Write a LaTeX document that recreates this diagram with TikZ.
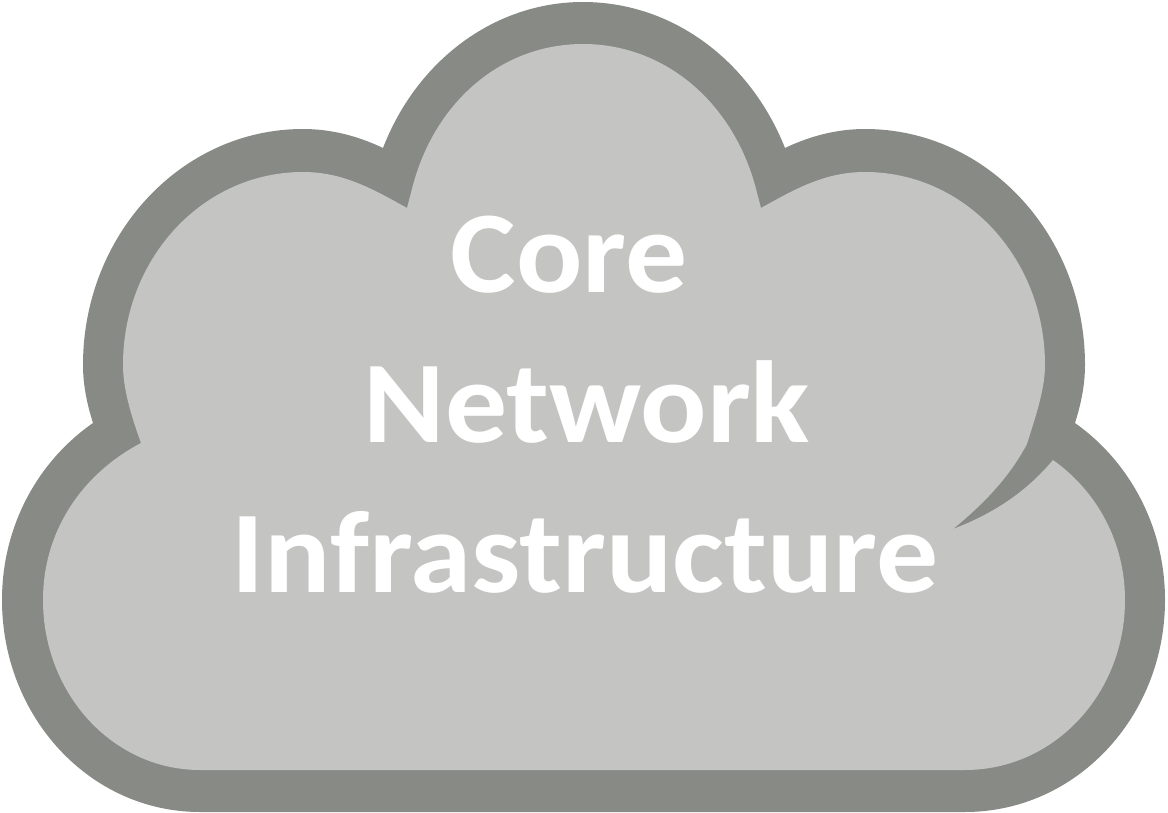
\documentclass[tikz,border=0pt]{standalone}
\usepackage{fontspec}
\setmainfont[FakeStretch=1.06]{Carlito}
\definecolor{cloudedge}{HTML}{888A85}
\definecolor{cloudfill}{HTML}{C4C5C3}
\tikzset{
  cloudlabel/.style={text=white,font=\fontsize{87.5}{87.5}\selectfont\bfseries,inner sep=0pt,anchor=base}
}
\begin{document}
\begin{tikzpicture}[x=0.75pt,y=-0.75pt]
\useasboundingbox (0,0) rectangle (1168,813);
% outer cloud
\fill[cloudedge] (383,148)
  .. controls (417,60) and (495,2) .. (583,2)
  .. controls (672,2) and (750,60) .. (785,148)
  .. controls (810,136) and (837,129) .. (865,129)
  .. controls (987,129) and (1085,235) .. (1085,365)
  .. controls (1085,385) and (1081,404) .. (1075,423)
  .. controls (1130,462) and (1165,527) .. (1165,600)
  .. controls (1165,717) and (1076,812) .. (965,812)
  -- (200,812)
  .. controls (90,812) and (2,717) .. (2,600)
  .. controls (2,527) and (37,462) .. (93,423)
  .. controls (87,404) and (83,385) .. (83,365)
  .. controls (83,235) and (181,129) .. (303,129)
  .. controls (331,129) and (358,136) .. (383,148) -- cycle;
% inner cloud
\fill[cloudfill] (407,208)
  -- (413,185)
  .. controls (436,100) and (503,44) .. (583,44)
  .. controls (663,44) and (731,100) .. (755,185)
  -- (761,208)
  .. controls (795,189) and (825,172) .. (865,172)
  .. controls (965,172) and (1045,258) .. (1045,365)
  .. controls (1045,390) and (1035,418) .. (1027,444)
  .. controls (1010,476) and (985,503) .. (953,529)
  .. controls (995,513) and (1027,491) .. (1053,460)
  .. controls (1098,492) and (1125,543) .. (1125,600)
  .. controls (1125,694) and (1054,770) .. (965,770)
  -- (200,770)
  .. controls (113,770) and (43,694) .. (43,600)
  .. controls (43,531) and (82,474) .. (141,443)
  .. controls (132,418) and (123,390) .. (123,365)
  .. controls (123,258) and (203,172) .. (303,172)
  .. controls (343,172) and (373,189) .. (407,208) -- cycle;
\node[cloudlabel] (core) at (569,292) {Core};
\node[cloudlabel] (network) at (587,442) {Network};
\node[cloudlabel] (infra) at (585,592) {Infrastructure};
\end{tikzpicture}
\end{document}
